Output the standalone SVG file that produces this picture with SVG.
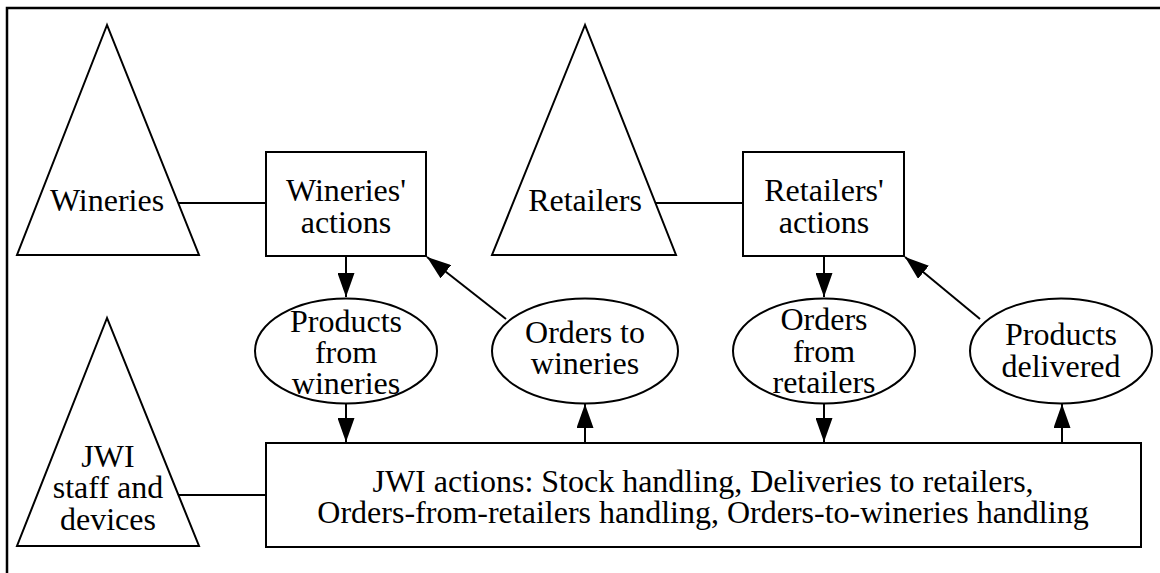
<svg xmlns="http://www.w3.org/2000/svg" width="1160" height="573" viewBox="0 0 1160 573">
<style>
.s{fill:#fff;stroke:#000;stroke-width:2}
text{font-family:'Liberation Serif','Times New Roman',serif;font-size:32px;fill:#000;text-anchor:middle}
.c{stroke:#000;stroke-width:2;fill:none}
</style>
<defs>
<marker id="ah" markerUnits="userSpaceOnUse" markerWidth="24" markerHeight="17" refX="24" refY="8.5" orient="auto">
<path d="M0,0 L24,8.5 L0,17 z" fill="#000"/>
</marker>
</defs>
<rect width="1160" height="573" fill="#fff"/>
<g id="frame">
<path d="M7,573 V8 H1160" fill="none" stroke="#000" stroke-width="2.5"/>
</g>
<g id="connectors">
<line class="c" x1="174" y1="203" x2="266" y2="203"/>
<line class="c" x1="655" y1="203" x2="743" y2="203"/>
<line class="c" x1="174" y1="495" x2="266" y2="495"/>
<line class="c" x1="346" y1="256" x2="346" y2="297" marker-end="url(#ah)"/>
<line class="c" x1="346" y1="403" x2="346" y2="442" marker-end="url(#ah)"/>
<line class="c" x1="585" y1="443" x2="585" y2="404" marker-end="url(#ah)"/>
<line class="c" x1="824" y1="256" x2="824" y2="297" marker-end="url(#ah)"/>
<line class="c" x1="824" y1="403" x2="824" y2="442" marker-end="url(#ah)"/>
<line class="c" x1="1062" y1="443" x2="1062" y2="404" marker-end="url(#ah)"/>
<line class="c" x1="506" y1="319" x2="427" y2="257" marker-end="url(#ah)"/>
<line class="c" x1="980" y1="319" x2="905" y2="257" marker-end="url(#ah)"/>
</g>
<g id="wineries">
<polygon class="s" points="107,25 17,255 199,255"/>
<text x="107" y="211">Wineries</text>
</g>
<g id="retailers">
<polygon class="s" points="585,25 492,255 676,255"/>
<text x="585" y="211">Retailers</text>
</g>
<g id="jwi-staff">
<polygon class="s" points="107,318 17,546 199,546"/>
<text x="108" y="467">JWI</text>
<text x="108" y="498">staff and</text>
<text x="108" y="530">devices</text>
</g>
<g id="wineries-actions">
<rect class="s" x="266" y="152" width="160" height="104"/>
<text x="346" y="201">Wineries'</text>
<text x="346" y="233">actions</text>
</g>
<g id="retailers-actions">
<rect class="s" x="743" y="152" width="161" height="104"/>
<text x="824" y="201">Retailers'</text>
<text x="824" y="233">actions</text>
</g>
<g id="products-from-wineries">
<ellipse class="s" cx="346" cy="351" rx="91" ry="52.5"/>
<text x="346" y="332">Products</text>
<text x="346" y="363">from</text>
<text x="346" y="394">wineries</text>
</g>
<g id="orders-to-wineries">
<ellipse class="s" cx="585" cy="351" rx="93" ry="52.5"/>
<text x="585" y="343">Orders to</text>
<text x="585" y="374">wineries</text>
</g>
<g id="orders-from-retailers">
<ellipse class="s" cx="824" cy="351" rx="91" ry="52.5"/>
<text x="824" y="330">Orders</text>
<text x="824" y="362">from</text>
<text x="824" y="393">retailers</text>
</g>
<g id="products-delivered">
<ellipse class="s" cx="1061" cy="351" rx="91" ry="52.5"/>
<text x="1061" y="345">Products</text>
<text x="1061" y="377">delivered</text>
</g>
<g id="jwi-actions">
<rect class="s" x="266" y="443" width="875" height="104"/>
<text x="703" y="492">JWI actions: Stock handling, Deliveries to retailers,</text>
<text x="703" y="523">Orders-from-retailers handling, Orders-to-wineries handling</text>
</g>
</svg>
